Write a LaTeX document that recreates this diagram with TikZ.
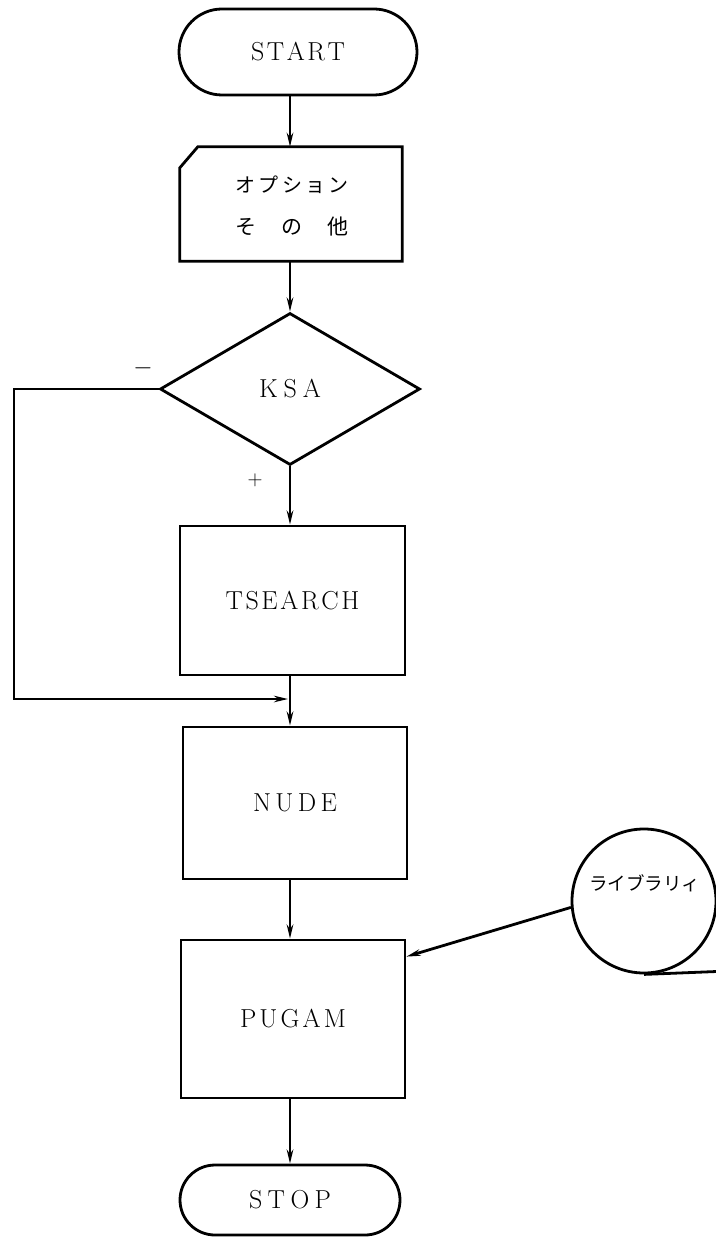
\documentclass[tikz,border=0pt]{standalone}
\usepackage{fontspec}
\newfontfamily\jpfont{Noto Sans CJK JP}
\usetikzlibrary{shapes.geometric,arrows.meta}
\newcommand\latfont{\fontsize{26}{30}\selectfont}
\newcommand\spreadtext[2]{\makebox[#1][s]{#2}}
\begin{document}
\begin{tikzpicture}[x=1pt,y=-1pt,
  line/.style={line width=2.8pt},
  arr/.style={line width=2.8pt,-{Stealth[length=14pt,width=6.5pt]}},
  box/.style={draw,line width=2.8pt,rectangle,inner sep=0pt,font=\latfont},
  term/.style={draw,line width=2.8pt,rectangle,inner sep=0pt,font=\latfont},
  dec/.style={draw,line width=2.8pt,diamond,inner sep=0pt,font=\latfont},
  tape/.style={draw,line width=2.8pt,circle,inner sep=0pt,minimum size=144pt},
  lbl/.style={inner sep=0pt}]
\useasboundingbox (0,0) rectangle (715,1246);
% nodes
\node[term,rounded corners=43pt,minimum width=238pt,minimum height=86pt] (start) at (298,52) {\spreadtext{94pt}{S\hfill T\hfill A\hfill R\hfill T}};
\node[inner sep=0pt,minimum width=222pt,minimum height=114pt] (card) at (291,204) {};
\node[lbl,font=\jpfont\fontsize{20}{22}\selectfont] (c1) at (292,185) {\spreadtext{113pt}{オ\hfill プ\hfill シ\hfill ョ\hfill ン}};
\node[lbl,font=\jpfont\fontsize{21}{22}\selectfont] (c2) at (292,227) {\spreadtext{113pt}{そ\hfill の\hfill 他}};
\node[dec,minimum width=260pt,minimum height=152pt] (ksa) at (290,389) {\spreadtext{62pt}{K\hfill S\hfill A}};
\node[box,minimum width=225pt,minimum height=149pt] (tsearch) at (292.5,600.5) {\spreadtext{134pt}{T\hfill S\hfill E\hfill A\hfill R\hfill C\hfill H}};
\node[box,minimum width=224pt,minimum height=152pt] (nude) at (295,803) {\spreadtext{84pt}{N\hfill U\hfill D\hfill E}};
\node[box,minimum width=224pt,minimum height=158pt] (pugam) at (293,1019) {\spreadtext{106pt}{P\hfill U\hfill G\hfill A\hfill M}};
\node[term,rounded corners=35pt,minimum width=220pt,minimum height=70pt] (stop) at (290,1200) {\spreadtext{82pt}{S\hfill T\hfill O\hfill P}};
\node[tape] (lib) at (644,901) {};
\node[lbl,font=\jpfont\fontsize{18.5}{20}\selectfont] (libtext) at (643,883) {\spreadtext{108pt}{ラ\hfill イ\hfill ブ\hfill ラ\hfill リ\hfill ィ}};
\node[lbl,font=\fontsize{26}{28}\selectfont] (minus) at (143,368) {$-$};
\node[lbl,font=\fontsize{22}{24}\selectfont] (plus) at (255,480) {$+$};
\coordinate (lc) at (14,0);
\coordinate (j) at (288,699);
% card shape
\draw[line] (card.south west) -- ([yshift=-21pt]card.north west) -- ([xshift=18pt]card.north west) -- (card.north east) -- (card.south east) -- cycle;
% connectors
\draw[arr] (start.south -| ksa.north) -- (card.north -| ksa.north);
\draw[arr] (card.south -| ksa.north) -- (ksa.north);
\draw[arr] (ksa.south) -- (tsearch.north -| ksa.south);
\draw[arr] (tsearch.south -| ksa.south) -- (nude.north -| ksa.south);
\draw[arr] (ksa.west) -- (ksa.west -| lc) |- (j);
\draw[arr] (nude.south -| ksa.south) -- (pugam.north -| ksa.south);
\draw[arr] (pugam.south -| ksa.south) -- (stop.north -| ksa.south);
\draw[arr] (lib.185) -- ([yshift=-18pt]pugam.north east);
\draw[line] (lib.south) -- ++(75,-3);
\end{tikzpicture}
\end{document}
